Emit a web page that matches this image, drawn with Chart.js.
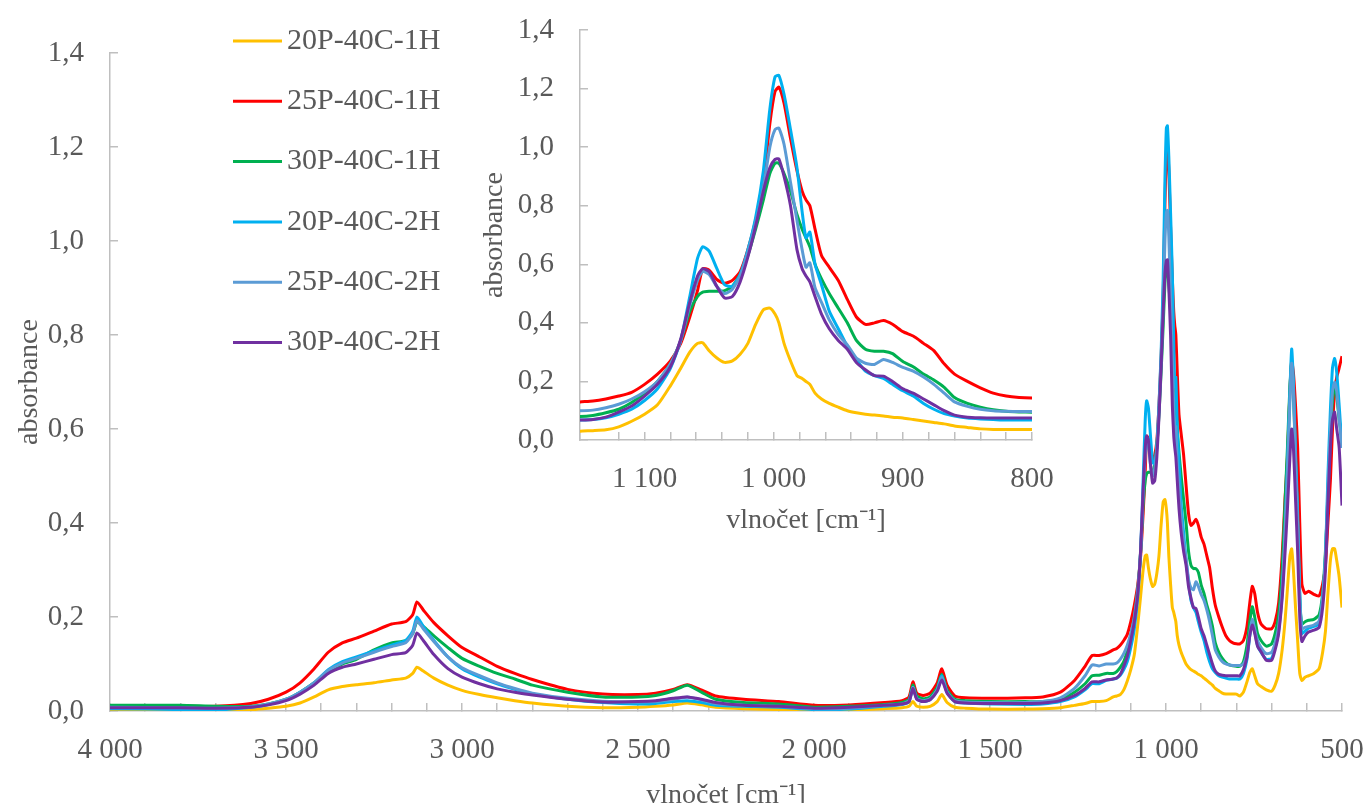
<!DOCTYPE html>
<html>
<head>
<meta charset="utf-8">
<script src="https://cdn.jsdelivr.net/npm/chart.js@4.4.0/dist/chart.umd.min.js"></script>
<style>
  html, body { margin: 0; padding: 0; background: #fff; overflow: hidden; }
  #wrap { position: relative; width: 1368px; height: 803px; overflow: hidden; }
  #mainChart { position: absolute; left: 0; top: 0; }
  #insetChart { position: absolute; left: 470px; top: 0; }
</style>
</head>
<body>
<div id="wrap">
  <canvas id="mainChart" width="1368" height="812"></canvas>
  <canvas id="insetChart" width="600" height="537"></canvas>
</div>
<script>
// wavenumbers (cm-1), descending
var wavenumbers = [
  4000, 3800, 3700, 3600, 3550, 3500, 3460, 3420, 3380, 3340, 3300, 3250, 3200, 3160, 3140,
  3128, 3110, 3080, 3040, 3000, 2950, 2900, 2850, 2800, 2700, 2600, 2500, 2450, 2400, 2360, 2320, 2280,
  2200, 2100, 2000, 1900, 1800, 1750, 1730, 1719, 1708, 1690, 1670, 1650, 1637, 1622, 1600,
  1570, 1500, 1400, 1350, 1300, 1260, 1230, 1210, 1190, 1170,
  1150, 1140, 1130, 1120, 1110, 1100, 1090, 1080, 1072, 1065, 1059, 1055, 1050, 1044, 1038,
  1032, 1026, 1020, 1014, 1008, 1003, 999, 996, 992, 987, 982, 978, 975, 972, 968,
  963, 957, 950, 943, 936, 929, 922, 915, 908, 900, 892, 884, 876, 868, 860,
  850, 840, 830, 820, 810, 800,
  790, 780, 770, 762, 755, 748, 740, 730, 715, 700, 690, 680, 670, 662, 655,
  648, 643, 638, 632, 626, 620, 614, 605, 595, 580, 565, 555, 547, 540, 533,
  527, 521, 515, 508, 500
];

var s20P1H = [
  0.002, 0.002, 0.002, 0.003, 0.006, 0.010, 0.017, 0.030, 0.045, 0.052, 0.056, 0.060, 0.066, 0.070, 0.080,
  0.093, 0.085, 0.070, 0.055, 0.044, 0.035, 0.028, 0.022, 0.017, 0.010, 0.007, 0.008, 0.010, 0.013, 0.017, 0.013, 0.008,
  0.005, 0.003, 0.001, 0.002, 0.005, 0.007, 0.010, 0.020, 0.010, 0.008, 0.010, 0.020, 0.035, 0.018, 0.008,
  0.006, 0.004, 0.004, 0.005, 0.007, 0.012, 0.016, 0.020, 0.020, 0.022,
  0.030, 0.032, 0.035, 0.045, 0.064, 0.088, 0.120, 0.185, 0.245, 0.300, 0.330, 0.332, 0.305, 0.280, 0.265,
  0.270, 0.293, 0.330, 0.395, 0.445, 0.450, 0.430, 0.400, 0.330, 0.270, 0.220, 0.210, 0.200, 0.190, 0.160,
  0.140, 0.125, 0.112, 0.100, 0.093, 0.088, 0.085, 0.082, 0.078, 0.075, 0.070, 0.065, 0.060, 0.055, 0.048,
  0.043, 0.038, 0.036, 0.036, 0.036, 0.036,
  0.032, 0.040, 0.062, 0.082, 0.090, 0.075, 0.058, 0.052, 0.045, 0.042, 0.055, 0.080, 0.130, 0.190, 0.260,
  0.330, 0.345, 0.300, 0.220, 0.150, 0.080, 0.065, 0.072, 0.075, 0.080, 0.090, 0.125, 0.170, 0.250, 0.320,
  0.345, 0.345, 0.320, 0.285, 0.220
];

var s25P1H = [
  0.010, 0.010, 0.010, 0.016, 0.025, 0.040, 0.060, 0.090, 0.125, 0.145, 0.155, 0.170, 0.185, 0.190, 0.205,
  0.232, 0.215, 0.188, 0.160, 0.135, 0.115, 0.095, 0.080, 0.067, 0.046, 0.036, 0.035, 0.038, 0.046, 0.056, 0.045, 0.032,
  0.025, 0.020, 0.012, 0.013, 0.018, 0.022, 0.030, 0.062, 0.038, 0.033, 0.038, 0.060, 0.090, 0.055, 0.032,
  0.028, 0.027, 0.028, 0.030, 0.040, 0.065, 0.095, 0.118, 0.118, 0.122,
  0.130, 0.133, 0.140, 0.150, 0.163, 0.190, 0.225, 0.270, 0.330, 0.420, 0.510, 0.585, 0.580, 0.548, 0.535,
  0.545, 0.575, 0.650, 0.750, 0.880, 1.080, 1.190, 1.205, 1.150, 1.030, 0.920, 0.850, 0.820, 0.800, 0.720,
  0.630, 0.590, 0.545, 0.480, 0.420, 0.395, 0.400, 0.408, 0.395, 0.370, 0.355, 0.330, 0.305, 0.260, 0.225,
  0.200, 0.178, 0.160, 0.150, 0.145, 0.143,
  0.143, 0.150, 0.180, 0.230, 0.265, 0.250, 0.210, 0.185, 0.175, 0.175, 0.190, 0.230, 0.330, 0.450, 0.540,
  0.680, 0.745, 0.720, 0.650, 0.560, 0.400, 0.270, 0.250, 0.255, 0.248, 0.245, 0.270, 0.310, 0.400, 0.490,
  0.600, 0.680, 0.710, 0.730, 0.755
];

var s30P1H = [
  0.012, 0.012, 0.010, 0.010, 0.015, 0.025, 0.040, 0.060, 0.085, 0.100, 0.110, 0.130, 0.145, 0.150, 0.165,
  0.190, 0.180, 0.160, 0.135, 0.112, 0.095, 0.080, 0.068, 0.055, 0.040, 0.030, 0.030, 0.033, 0.043, 0.055, 0.040, 0.025,
  0.018, 0.015, 0.008, 0.010, 0.014, 0.018, 0.025, 0.055, 0.032, 0.026, 0.030, 0.050, 0.078, 0.045, 0.025,
  0.022, 0.020, 0.020, 0.020, 0.025, 0.040, 0.058, 0.075, 0.076, 0.080,
  0.080, 0.084, 0.093, 0.105, 0.128, 0.160, 0.200, 0.260, 0.340, 0.440, 0.490, 0.505, 0.508, 0.508, 0.510,
  0.525, 0.565, 0.630, 0.720, 0.820, 0.910, 0.945, 0.945, 0.910, 0.850, 0.770, 0.720, 0.690, 0.660, 0.600,
  0.550, 0.500, 0.450, 0.400, 0.340, 0.310, 0.303, 0.303, 0.295, 0.268, 0.250, 0.225, 0.205, 0.180, 0.145,
  0.125, 0.112, 0.103, 0.098, 0.096, 0.095,
  0.095, 0.105, 0.140, 0.190, 0.222, 0.200, 0.165, 0.150, 0.138, 0.143, 0.165, 0.205, 0.300, 0.440, 0.560,
  0.690, 0.740, 0.680, 0.540, 0.400, 0.240, 0.185, 0.190, 0.193, 0.195, 0.205, 0.250, 0.340, 0.460, 0.580,
  0.660, 0.690, 0.670, 0.620, 0.580
];

var s20P2H = [
  0.005, 0.003, 0.002, 0.008, 0.014, 0.024, 0.040, 0.060, 0.088, 0.105, 0.115, 0.128, 0.140, 0.150, 0.170,
  0.200, 0.180, 0.150, 0.115, 0.090, 0.072, 0.058, 0.046, 0.036, 0.025, 0.018, 0.015, 0.016, 0.020, 0.022, 0.018, 0.012,
  0.010, 0.008, 0.003, 0.004, 0.010, 0.014, 0.020, 0.050, 0.026, 0.020, 0.024, 0.045, 0.075, 0.040, 0.020,
  0.017, 0.015, 0.014, 0.015, 0.020, 0.030, 0.045, 0.058, 0.058, 0.065,
  0.068, 0.070, 0.076, 0.088, 0.105, 0.135, 0.175, 0.245, 0.340, 0.490, 0.620, 0.660, 0.645, 0.585, 0.530,
  0.525, 0.565, 0.650, 0.760, 0.920, 1.130, 1.240, 1.245, 1.180, 1.060, 0.930, 0.780, 0.690, 0.710, 0.600,
  0.530, 0.440, 0.380, 0.320, 0.275, 0.235, 0.220, 0.210, 0.190, 0.168, 0.150, 0.125, 0.105, 0.090, 0.082,
  0.075, 0.072, 0.070, 0.068, 0.068, 0.068,
  0.068, 0.080, 0.110, 0.160, 0.190, 0.170, 0.140, 0.125, 0.110, 0.112, 0.135, 0.170, 0.250, 0.370, 0.520,
  0.680, 0.770, 0.700, 0.550, 0.420, 0.250, 0.165, 0.170, 0.176, 0.180, 0.185, 0.240, 0.330, 0.500, 0.640,
  0.730, 0.750, 0.720, 0.650, 0.560
];

var s25P2H = [
  0.008, 0.007, 0.006, 0.009, 0.015, 0.025, 0.040, 0.060, 0.086, 0.102, 0.112, 0.125, 0.137, 0.145, 0.165,
  0.192, 0.175, 0.148, 0.115, 0.092, 0.075, 0.060, 0.048, 0.038, 0.027, 0.021, 0.019, 0.020, 0.025, 0.030, 0.024, 0.016,
  0.012, 0.010, 0.005, 0.006, 0.012, 0.015, 0.022, 0.050, 0.027, 0.022, 0.026, 0.045, 0.072, 0.040, 0.022,
  0.019, 0.018, 0.018, 0.020, 0.028, 0.048, 0.075, 0.098, 0.096, 0.100,
  0.100, 0.102, 0.110, 0.122, 0.140, 0.165, 0.200, 0.260, 0.340, 0.460, 0.545, 0.576, 0.565, 0.524, 0.500,
  0.515, 0.560, 0.640, 0.740, 0.860, 1.000, 1.060, 1.065, 1.010, 0.880, 0.750, 0.650, 0.590, 0.605, 0.520,
  0.470, 0.410, 0.360, 0.325, 0.280, 0.262, 0.258, 0.275, 0.265, 0.248, 0.235, 0.215, 0.190, 0.160, 0.130,
  0.115, 0.105, 0.100, 0.098, 0.097, 0.097,
  0.097, 0.100, 0.120, 0.165, 0.195, 0.175, 0.150, 0.135, 0.122, 0.125, 0.145, 0.180, 0.260, 0.380, 0.510,
  0.660, 0.740, 0.680, 0.530, 0.400, 0.240, 0.175, 0.178, 0.180, 0.183, 0.192, 0.240, 0.330, 0.470, 0.600,
  0.680, 0.700, 0.680, 0.620, 0.560
];

var s30P2H = [
  0.007, 0.007, 0.006, 0.008, 0.013, 0.022, 0.036, 0.055, 0.080, 0.093, 0.100, 0.110, 0.120, 0.124, 0.140,
  0.166, 0.150, 0.120, 0.090, 0.072, 0.058, 0.047, 0.040, 0.034, 0.025, 0.019, 0.020, 0.022, 0.027, 0.030, 0.025, 0.018,
  0.012, 0.010, 0.006, 0.008, 0.012, 0.015, 0.020, 0.048, 0.025, 0.020, 0.024, 0.042, 0.066, 0.038, 0.020,
  0.017, 0.016, 0.016, 0.017, 0.022, 0.033, 0.048, 0.062, 0.062, 0.066,
  0.068, 0.070, 0.078, 0.095, 0.116, 0.150, 0.190, 0.250, 0.345, 0.470, 0.560, 0.585, 0.575, 0.524, 0.485,
  0.490, 0.540, 0.625, 0.730, 0.850, 0.930, 0.958, 0.960, 0.900, 0.800, 0.650, 0.585, 0.560, 0.540, 0.490,
  0.430, 0.380, 0.340, 0.310, 0.265, 0.240, 0.220, 0.218, 0.200, 0.175, 0.160, 0.140, 0.120, 0.100, 0.085,
  0.078, 0.076, 0.075, 0.075, 0.075, 0.075,
  0.075, 0.088, 0.115, 0.160, 0.183, 0.165, 0.138, 0.126, 0.108, 0.108, 0.130, 0.165, 0.240, 0.334, 0.430,
  0.540, 0.600, 0.560, 0.450, 0.340, 0.200, 0.148, 0.160, 0.168, 0.172, 0.178, 0.220, 0.300, 0.440, 0.560,
  0.620, 0.636, 0.600, 0.560, 0.437
];

var seriesNames = ['20P-40C-1H', '25P-40C-1H', '30P-40C-1H', '20P-40C-2H', '25P-40C-2H', '30P-40C-2H'];
var seriesColors = ['#FFC000', '#FF0000', '#00B050', '#00B0F0', '#5B9BD5', '#7030A0'];
var mainXLabels = [4000, 3500, 3000, 2500, 2000, 1500, 1000, 500];
var insetXLabels = [1100, 1000, 900, 800];

var textColor = '#595959';
var axisColor = '#BFBFBF';
var fontFamily = "'Liberation Serif', 'Times New Roman', serif";
var tickFont = { family: fontFamily, size: 29 };
var titleFont = { family: fontFamily, size: 28 };

function fmtWn(v) {
  v = Math.round(v);
  if (v >= 1000) {
    var rest = String(v % 1000);
    while (rest.length < 3) rest = '0' + rest;
    return Math.floor(v / 1000) + ' ' + rest;
  }
  return String(v);
}

function buildDatasets() {
  var all = [s20P1H, s25P1H, s30P1H, s20P2H, s25P2H, s30P2H];
  return all.map(function (vals, i) {
    return {
      label: seriesNames[i],
      data: vals.map(function (v, j) { return { x: wavenumbers[j], y: v }; }),
      borderColor: seriesColors[i],
      backgroundColor: seriesColors[i],
      borderWidth: 3,
      pointRadius: 0,
      tension: 0.2,
      fill: false,
      order: all.length - i
    };
  });
}

function makeOptions(cfg) {
  return {
    responsive: false,
    animation: false,
    events: [],
    layout: { padding: { top: cfg.top, right: cfg.right, left: 0, bottom: 0 } },
    plugins: { legend: { display: false }, tooltip: { enabled: false } },
    scales: {
      x: {
        type: 'linear',
        reverse: true,
        min: cfg.xMin,
        max: cfg.xMax,
        border: { color: axisColor, width: 1.5 },
        grid: { drawOnChartArea: false, drawTicks: true, tickLength: -8, color: axisColor, lineWidth: 1.5 },
        ticks: {
          stepSize: cfg.xStep,
          autoSkip: false,
          maxRotation: 0,
          padding: 30,
          color: textColor,
          font: tickFont,
          callback: function (v) {
            return cfg.xLabels.indexOf(Math.round(v)) >= 0 ? fmtWn(v) : '';
          }
        },
        title: { display: true, text: 'vlnočet [cm⁻¹]', color: textColor, font: titleFont, padding: 0 },
        afterFit: function (s) {
          s.height = cfg.xHeight;
          s.paddingLeft = 0;
          s.paddingRight = 0;
        }
      },
      y: {
        min: 0,
        max: 1.4,
        border: { color: axisColor, width: 1.5 },
        grid: { drawOnChartArea: false, drawTicks: true, tickLength: -8, color: axisColor, lineWidth: 1.5 },
        ticks: {
          stepSize: 0.2,
          padding: 34,
          color: textColor,
          font: tickFont,
          callback: function (v) { return v.toFixed(1).replace('.', ','); }
        },
        title: { display: true, text: 'absorbance', color: textColor, font: titleFont, padding: { top: cfg.yTitlePad, bottom: 0 } },
        afterFit: function (s) {
          s.width = 110;
          s.paddingTop = 0;
          s.paddingBottom = 0;
        }
      }
    }
  };
}

// legend drawn inside the main plot, one row per series
var sideLegend = {
  id: 'sideLegend',
  afterDraw: function (chart) {
    var ctx = chart.ctx;
    ctx.save();
    ctx.font = '30px ' + fontFamily;
    ctx.textBaseline = 'middle';
    chart.data.datasets.forEach(function (ds, i) {
      var y = 41 + i * 60.3;
      ctx.strokeStyle = ds.borderColor;
      ctx.lineWidth = 3;
      ctx.beginPath();
      ctx.moveTo(233, y);
      ctx.lineTo(282, y);
      ctx.stroke();
      ctx.fillStyle = textColor;
      ctx.fillText(ds.label, 287, y);
    });
    ctx.restore();
  }
};

new Chart(document.getElementById('mainChart'), {
  type: 'line',
  data: { datasets: buildDatasets() },
  options: makeOptions({ top: 53, right: 26, xMin: 500, xMax: 4000, xStep: 100, xLabels: mainXLabels, xHeight: 101, yTitlePad: 13 }),
  plugins: [sideLegend]
});

new Chart(document.getElementById('insetChart'), {
  type: 'line',
  data: { datasets: buildDatasets() },
  options: makeOptions({ top: 30, right: 38, xMin: 800, xMax: 1150, xStep: 20, xLabels: insetXLabels, xHeight: 97, yTitlePad: 8 })
});
</script>
</body>
</html>
